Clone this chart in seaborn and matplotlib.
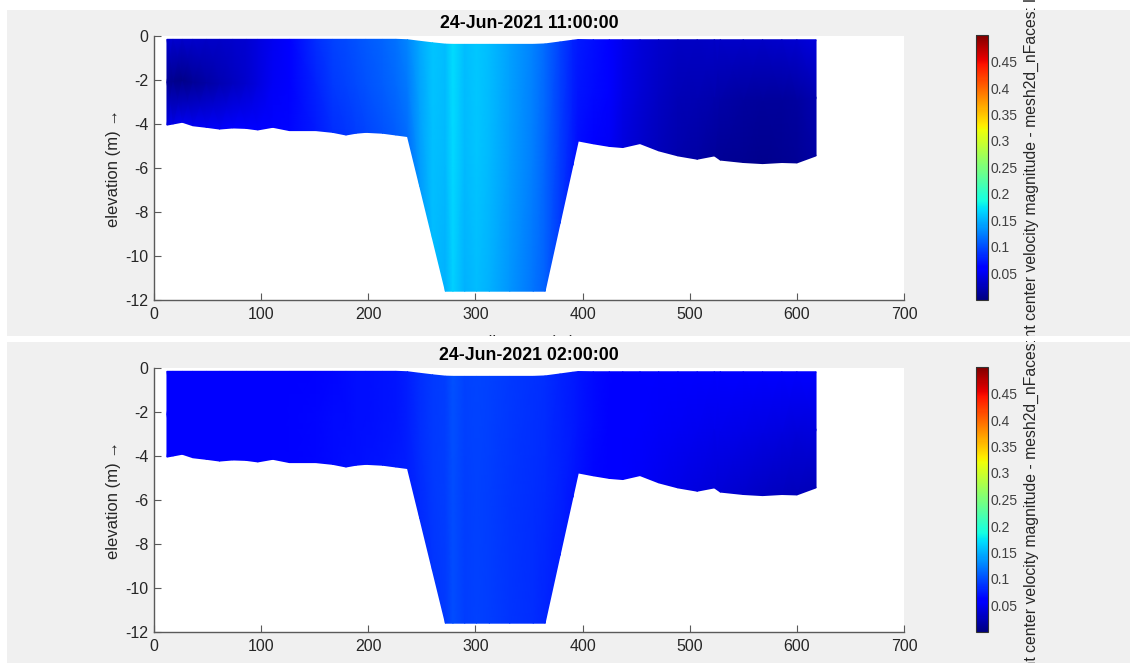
import numpy as np
import matplotlib
matplotlib.use("Agg")
import matplotlib.pyplot as plt
import seaborn as sns
from matplotlib.patches import Rectangle
from matplotlib.transforms import Bbox, TransformedBbox
from matplotlib.ticker import FuncFormatter

# ---------------- data ----------------
distance = [12.1, 17.7, 26.4, 36.3, 48.8, 61.2, 73.6, 86.0, 96.9, 110.9,
            126.4, 151.0, 166.8, 179.2, 188.5, 197.8, 213.4, 225.8, 236.6, 248.0,
            260.0, 272.0, 279.0, 290.0, 301.0, 313.0, 332.0, 354.0, 365.0, 379.0,
            391.0, 396.0, 410.0, 425.0, 437.5, 453.6, 471.0, 489.0, 507.0, 523.0,
            528.6, 550.0, 568.0, 586.0, 600.0, 617.9]
bed_level = [-4.05, -4.00, -3.92, -4.08, -4.15, -4.23, -4.18, -4.20, -4.27, -4.15,
             -4.30, -4.30, -4.38, -4.50, -4.42, -4.38, -4.42, -4.50, -4.57, -6.83,
             -9.22, -11.60, -11.60, -11.60, -11.60, -11.60, -11.60, -11.60, -11.60, -8.51,
             -5.87, -4.77, -4.90, -5.02, -5.07, -4.89, -5.22, -5.45, -5.60, -5.45,
             -5.64, -5.75, -5.80, -5.75, -5.77, -5.45]
surface_level = [-0.15] * 18 + [-0.17, -0.24, -0.31, -0.37] + [-0.38] * 6 + \
                [-0.36, -0.27, -0.19, -0.16] + [-0.17] * 14

# velocity magnitude (m/s) at water surface, mid-depth and bed
vel_1100_surface = [0.036, 0.036, 0.035, 0.034, 0.033, 0.033, 0.034, 0.037, 0.042, 0.050,
                    0.060, 0.085, 0.095, 0.099, 0.102, 0.106, 0.112, 0.118, 0.127, 0.145,
                    0.160, 0.155, 0.170, 0.155, 0.162, 0.156, 0.142, 0.126, 0.115, 0.094,
                    0.080, 0.076, 0.069, 0.060, 0.048, 0.041, 0.034, 0.031, 0.031, 0.033,
                    0.033, 0.033, 0.033, 0.035, 0.037, 0.042]
vel_1100_middle = [0.010, 0.006, 0.005, 0.010, 0.016, 0.022, 0.028, 0.035, 0.042, 0.052,
                   0.062, 0.080, 0.090, 0.094, 0.098, 0.102, 0.108, 0.114, 0.122, 0.142,
                   0.158, 0.153, 0.168, 0.153, 0.160, 0.154, 0.140, 0.124, 0.113, 0.092,
                   0.078, 0.074, 0.067, 0.057, 0.046, 0.038, 0.031, 0.025, 0.022, 0.020,
                   0.018, 0.014, 0.012, 0.012, 0.014, 0.022]
vel_1100_bed = [0.045, 0.046, 0.048, 0.050, 0.052, 0.054, 0.056, 0.058, 0.060, 0.063,
                0.066, 0.076, 0.084, 0.089, 0.093, 0.097, 0.102, 0.109, 0.116, 0.138,
                0.155, 0.150, 0.165, 0.150, 0.156, 0.150, 0.136, 0.120, 0.110, 0.090,
                0.076, 0.070, 0.062, 0.052, 0.042, 0.035, 0.026, 0.021, 0.016, 0.013,
                0.011, 0.009, 0.007, 0.009, 0.011, 0.016]

vel_0200_surface = [0.056, 0.056, 0.056, 0.057, 0.057, 0.058, 0.058, 0.059, 0.060, 0.061,
                    0.062, 0.064, 0.066, 0.068, 0.069, 0.070, 0.072, 0.074, 0.077, 0.084,
                    0.090, 0.092, 0.102, 0.094, 0.096, 0.094, 0.090, 0.086, 0.084, 0.080,
                    0.076, 0.074, 0.068, 0.064, 0.062, 0.060, 0.058, 0.057, 0.056, 0.056,
                    0.056, 0.055, 0.055, 0.055, 0.055, 0.056]
vel_0200_middle = [0.058, 0.058, 0.058, 0.058, 0.059, 0.059, 0.060, 0.060, 0.061, 0.062,
                   0.063, 0.065, 0.067, 0.068, 0.069, 0.070, 0.072, 0.074, 0.077, 0.084,
                   0.090, 0.092, 0.101, 0.093, 0.095, 0.093, 0.089, 0.085, 0.083, 0.079,
                   0.075, 0.073, 0.067, 0.062, 0.060, 0.057, 0.054, 0.052, 0.050, 0.048,
                   0.047, 0.045, 0.043, 0.042, 0.041, 0.042]
vel_0200_bed = [0.060, 0.060, 0.060, 0.060, 0.060, 0.061, 0.061, 0.062, 0.062, 0.063,
                0.064, 0.066, 0.068, 0.069, 0.070, 0.071, 0.073, 0.075, 0.078, 0.083,
                0.089, 0.091, 0.100, 0.092, 0.094, 0.092, 0.088, 0.084, 0.082, 0.078,
                0.074, 0.072, 0.065, 0.060, 0.057, 0.054, 0.050, 0.046, 0.042, 0.040,
                0.038, 0.034, 0.030, 0.028, 0.026, 0.026]

titles = ["24-Jun-2021 11:00:00", "24-Jun-2021 02:00:00"]
x_ticks = [0, 100, 200, 300, 400, 500, 600, 700]
y_ticks = [-12, -10, -8, -6, -4, -2, 0]
cbar_ticks = [0.05, 0.1, 0.15, 0.2, 0.25, 0.3, 0.35, 0.4, 0.45]
x_label = "distance (m)"
y_label = "elevation (m) \u2192"
cbar_label_head = "Flow eleme"
cbar_label_body = "nt center velocity magnitude - mesh2d_nFaces: "
cbar_label_tail = "layer (m/s)"
cbar_label = cbar_label_head + cbar_label_body + cbar_label_tail

# ---------------- style ----------------
sns.set_theme(style="white")
plt.rcParams["font.family"] = ["Liberation Sans", "DejaVu Sans"]
plt.rcParams["axes.unicode_minus"] = False

W, H = 1130, 663
fig = plt.figure(figsize=(W / 100, H / 100), dpi=100, facecolor="white")
renderer = fig.canvas.get_renderer()

def fx(px):
    return px / W

def fy(py):
    return 1 - py / H

def text_width(s, size):
    t = fig.text(0, 0, s, fontsize=size)
    w = t.get_window_extent(renderer).width
    t.remove()
    return w

panel_color = "#f0f0f0"
panels = [(7, 10, 1130, 336), (7, 342, 1130, 663)]
for (x0, y0, x1, y1) in panels:
    fig.add_artist(Rectangle((fx(x0), fy(y1)), fx(x1 - x0), (y1 - y0) / H,
                             transform=fig.transFigure, facecolor=panel_color,
                             edgecolor="none", zorder=-5))

sigma = np.array([0.0, 0.5, 1.0])
dist = np.asarray(distance)
bed = np.asarray(bed_level)
surf = np.asarray(surface_level)
X = np.tile(dist, (len(sigma), 1))
Z = surf[None, :] + sigma[:, None] * (bed - surf)[None, :]

datasets = [
    np.vstack([vel_1100_surface, vel_1100_middle, vel_1100_bed]),
    np.vstack([vel_0200_surface, vel_0200_middle, vel_0200_bed]),
]

axes_top_px = [36, 368]
clip_ranges = [(0, 336), (341, 663)]
axis_col = "#5a5a5a"
text_col = "#262626"

# colorbar label size so that the visible body spans the same length as the reference
body_fs = 10 * 337 / text_width(cbar_label_body, 10)
head_w = text_width(cbar_label_head, body_fs)

for i, (C, title) in enumerate(zip(datasets, titles)):
    top = axes_top_px[i]
    ax = fig.add_axes([fx(154), fy(top + 264), fx(750), 264 / H])
    ax.set_facecolor("white")
    mesh = ax.pcolormesh(X, Z, C, shading="gouraud", cmap="jet", vmin=0, vmax=0.5)
    ax.set_xlim(0, 700)
    ax.set_ylim(-12, 0)
    ax.set_xticks(x_ticks)
    ax.set_yticks(y_ticks)
    for s in ["top", "right"]:
        ax.spines[s].set_visible(False)
    for s in ["left", "bottom"]:
        ax.spines[s].set_color(axis_col)
        ax.spines[s].set_linewidth(1.0)
    ax.tick_params(axis="both", direction="in", length=5, width=0.8, color=axis_col,
                   labelcolor=text_col, labelsize=11.5)
    ax.tick_params(axis="x", pad=5, bottom=True, top=False)
    ax.tick_params(axis="y", pad=4, left=True, right=False)
    ax.set_title(title, fontsize=12.8, fontweight="bold", color="black", pad=6)
    ax.set_ylabel(y_label, fontsize=12, color=text_col)
    ax.yaxis.set_label_coords((121 - 154) / 750, 0.5)
    ax.set_xlabel(x_label, fontsize=12, color=text_col)
    ax.xaxis.set_label_coords(0.5, -35 / 264)

    c0, c1 = clip_ranges[i]
    clip = TransformedBbox(Bbox([[0, fy(c1)], [1, fy(c0)]]), fig.transFigure)
    ax.xaxis.label.set_clip_on(True)
    ax.xaxis.label.set_clip_box(clip)

    # colorbar
    cax = fig.add_axes([fx(976), fy(top + 264), fx(12), 265 / H])
    cb = fig.colorbar(mesh, cax=cax, ticks=cbar_ticks)
    cb.outline.set_edgecolor("#333333")
    cb.outline.set_linewidth(0.8)
    cb.ax.yaxis.set_major_formatter(FuncFormatter(lambda v, p: f"{v:g}"))
    cax.tick_params(direction="in", length=3, width=0.7, color="#333333",
                    labelcolor="#404040", labelsize=10, pad=2)

    cb_center = top + 132
    start_px = cb_center + 169 + head_w
    t = fig.text(fx(1031), fy(start_px), cbar_label, rotation=90,
                 rotation_mode="anchor", ha="left", va="center",
                 fontsize=body_fs, color=text_col)
    t.set_clip_on(True)
    t.set_clip_box(clip)

fig.savefig("out.png", dpi=100, facecolor="white")
